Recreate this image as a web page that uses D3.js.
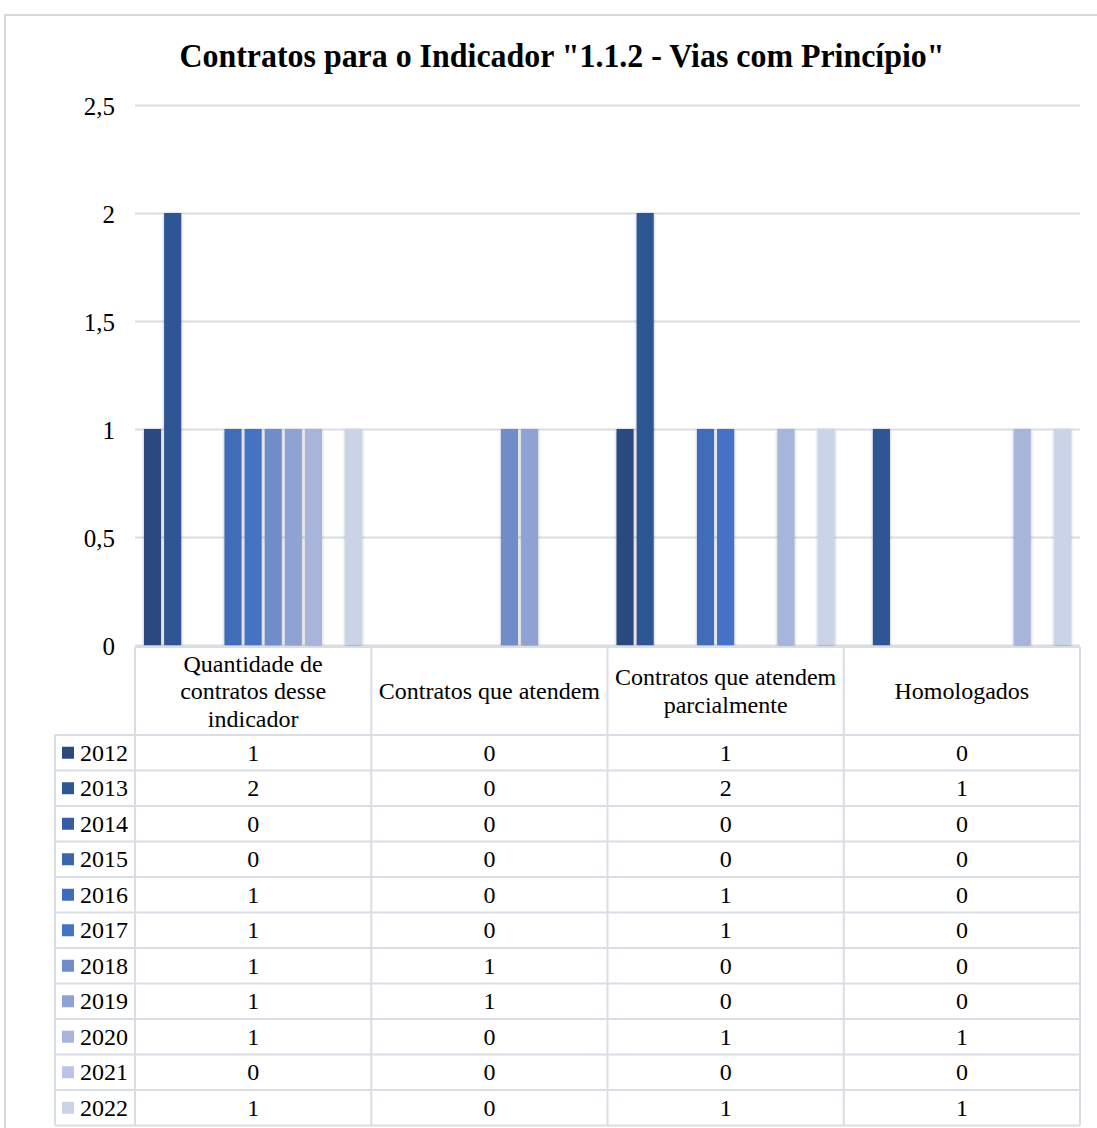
<!DOCTYPE html>
<html>
<head>
<meta charset="utf-8">
<script src="https://cdn.jsdelivr.net/npm/d3@7"></script>
<style>
  body { margin: 0; background: #fff; }
  text { font-family: "Liberation Serif", "Times New Roman", serif; fill: #000; }
</style>
</head>
<body>
<div id="chart"></div>
<script>
const title = 'Contratos para o Indicador  "1.1.2 - Vias com Princípio"';
const categories = [
    ["Quantidade de", "contratos desse", "indicador"],
    ["Contratos que atendem"],
    ["Contratos que atendem", "parcialmente"],
    ["Homologados"]
];
const years = ["2012", "2013", "2014", "2015", "2016", "2017", "2018", "2019", "2020", "2021", "2022"];
const colors = ["#2b4a80", "#2f5594", "#365ca3", "#3b65b0", "#3f6cba", "#4472c4",
                "#6f8dca", "#8ea3d4", "#a7b5db", "#bac5e5", "#cbd3e8"];
const values = [
    [1, 0, 1, 0],
    [2, 0, 2, 1],
    [0, 0, 0, 0],
    [0, 0, 0, 0],
    [1, 0, 1, 0],
    [1, 0, 1, 0],
    [1, 1, 0, 0],
    [1, 1, 0, 0],
    [1, 0, 1, 1],
    [0, 0, 0, 0],
    [1, 0, 1, 1]
];
const yTicks = [0, 0.5, 1, 1.5, 2, 2.5];

const width = 1097, height = 1128;
const plot = {left: 135, right: 1080, top: 105, bottom: 645};
const legendLeft = 55;
const headerBottom = 735;
const rowH = 35.5;
const lineColor = "#d9dde6";
const fs = 24;

const svg = d3.select("#chart").append("svg")
    .attr("width", width)
    .attr("height", height);

const defs = svg.append("defs");
defs.append("filter").attr("id", "shadow")
    .attr("x", "-30%").attr("y", "-5%").attr("width", "160%").attr("height", "110%")
    .append("feDropShadow")
    .attr("dx", 0).attr("dy", 1).attr("stdDeviation", 1.5)
    .attr("flood-color", "#000").attr("flood-opacity", 0.3);

// outer frame
svg.append("path")
    .attr("d", `M5,${height} V15 H${width}`)
    .attr("fill", "none")
    .attr("stroke", "#d9d9d9")
    .attr("stroke-width", 2);

svg.append("text")
    .attr("x", 562)
    .attr("y", 67)
    .attr("text-anchor", "middle")
    .attr("font-size", 33)
    .attr("font-weight", "bold")
    .attr("textLength", 765)
    .attr("lengthAdjust", "spacingAndGlyphs")
    .text(title);

const x0 = d3.scaleBand()
    .domain(d3.range(categories.length))
    .range([plot.left, plot.right])
    .paddingInner(0)
    .paddingOuter(0);

const x1 = d3.scaleBand()
    .domain(d3.range(years.length))
    .range([9, x0.bandwidth() - 9])
    .paddingInner(0.15)
    .paddingOuter(0);

const y = d3.scaleLinear()
    .domain([0, 2.5])
    .range([plot.bottom, plot.top]);

const locale = d3.formatLocale({decimal: ",", thousands: ".", grouping: [3], currency: ["R$", ""]});
const fmt = locale.format("~g");

// gridlines
svg.append("g")
    .attr("transform", `translate(${plot.left},0)`)
    .call(d3.axisLeft(y).tickValues(yTicks).tickSize(-(plot.right - plot.left)).tickFormat(""))
    .call(g => g.select(".domain").remove())
    .call(g => g.selectAll("line").attr("stroke", lineColor).attr("stroke-width", 2));

// y labels
svg.append("g")
    .attr("transform", `translate(${plot.left - 20},1)`)
    .call(d3.axisLeft(y).tickValues(yTicks).tickSize(0).tickPadding(0).tickFormat(fmt))
    .call(g => g.select(".domain").remove())
    .call(g => g.selectAll("text")
        .attr("font-size", 25)
        .attr("font-family", "Liberation Serif, serif")
        .attr("fill", "#000"));

// bars
const groups = svg.append("g")
    .selectAll("g")
    .data(years)
    .join("g")
    .attr("fill", (d, i) => colors[i]);

groups.selectAll("rect")
    .data((d, i) => values[i].map((v, j) => ({s: i, c: j, v: v})))
    .join("rect")
    .filter(d => d.v > 0)
    .attr("x", d => x0(d.c) + x1(d.s))
    .attr("width", x1.bandwidth())
    .attr("y", d => y(d.v))
    .attr("height", d => y(0) - y(d.v))
    .attr("filter", "url(#shadow)");

// data table
const table = svg.append("g");
const tableBottom = headerBottom + rowH * years.length;

const hLines = [plot.bottom + 2, headerBottom].concat(years.map((d, i) => headerBottom + rowH * (i + 1)));
table.selectAll("line.h")
    .data(hLines)
    .join("line")
    .attr("x1", (d, i) => i === 0 ? plot.left : legendLeft)
    .attr("x2", plot.right)
    .attr("y1", d => d)
    .attr("y2", d => d)
    .attr("stroke", lineColor)
    .attr("stroke-width", 2);

const vLines = [plot.left].concat(categories.map((d, i) => x0(i) + x0.bandwidth()));
table.selectAll("line.v")
    .data(vLines)
    .join("line")
    .attr("x1", d => d)
    .attr("x2", d => d)
    .attr("y1", plot.bottom + 2)
    .attr("y2", tableBottom)
    .attr("stroke", lineColor)
    .attr("stroke-width", 2);

table.append("line")
    .attr("x1", legendLeft).attr("x2", legendLeft)
    .attr("y1", headerBottom).attr("y2", tableBottom)
    .attr("stroke", lineColor).attr("stroke-width", 2);

// category headers
const lineH = 27.5;
categories.forEach((lines, i) => {
    const cx = x0(i) + x0.bandwidth() / 2;
    const cy = (plot.bottom + headerBottom) / 2 + 1;
    const t = table.append("text")
        .attr("text-anchor", "middle")
        .attr("font-size", fs);
    lines.forEach((ln, k) => {
        t.append("tspan")
            .attr("x", cx)
            .attr("y", cy + (k - (lines.length - 1) / 2) * lineH + 8)
            .text(ln);
    });
});

// rows
years.forEach((yr, i) => {
    const cy = headerBottom + rowH * i + rowH / 2;
    table.append("rect")
        .attr("x", 62)
        .attr("y", cy - 6)
        .attr("width", 12)
        .attr("height", 12)
        .attr("fill", colors[i]);
    table.append("text")
        .attr("x", 80)
        .attr("y", cy + 8)
        .attr("font-size", fs)
        .text(yr);
    values[i].forEach((v, j) => {
        table.append("text")
            .attr("x", x0(j) + x0.bandwidth() / 2)
            .attr("y", cy + 8)
            .attr("text-anchor", "middle")
            .attr("font-size", fs)
            .text(v);
    });
});
</script>
</body>
</html>
